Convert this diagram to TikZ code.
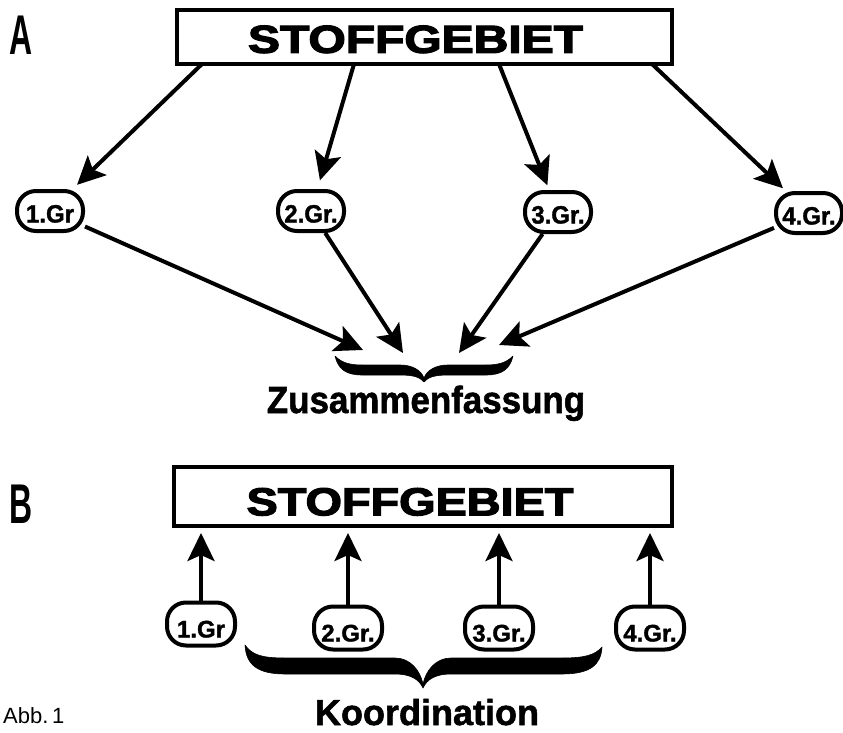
\documentclass[tikz,border=0pt]{standalone}
\usepackage{fontspec}
\setmainfont{Liberation Sans}
\newfontfamily\blackfont{Liberation Sans Bold}[FakeBold=3]
\newfontfamily\semiblack{Liberation Sans Bold}[FakeBold=1.5]
\usetikzlibrary{arrows.meta}
\begin{document}
\begin{tikzpicture}[x=1pt,y=-1pt,
  stoffbox/.style={draw, line width=4pt, inner sep=0pt, minimum height=54pt,
    font=\blackfont\fontsize{39}{39}\selectfont},
  grp/.style={draw, line width=4pt, rounded corners=19pt, minimum width=66pt,
    minimum height=40pt, inner sep=0pt, text height=23pt, text depth=0pt,
    font=\semiblack\fontsize{25}{25}\selectfont},
  grpB/.style={grp, minimum width=68pt, minimum height=43pt, text height=27pt,
    font=\semiblack\fontsize{24}{24}\selectfont},
  arr/.style={line width=4pt, -{Stealth[length=28pt,width=27pt,inset=6pt]}},
  bigletter/.style={inner sep=0pt, font=\bfseries\fontsize{56}{56}\selectfont},
  caption/.style={inner sep=0pt, font=\semiblack\fontsize{36}{36}\selectfont},
  bracefill/.style={fill=black, draw=black, line width=0.6pt, line join=round}
]
\useasboundingbox (0,0) rectangle (843,733);

% ---------------- Part A ----------------
\node[bigletter] (lA) at (21.5,35) {\scalebox{0.57}[1]{A}};
\node[stoffbox, minimum width=495pt, text height=32pt] (boxA) at (424.5,37)
  {\scalebox{1.23}[1]{STOFFGEBIET}\hspace*{18pt}};

\node[grp] (g1) at (50,211) {\scalebox{0.96}[1]{1.Gr}};
\node[grp] (g2) at (311,211) {\scalebox{0.96}[1]{2.Gr.}};
\node[grp] (g3) at (558,212) {\scalebox{0.96}[1]{3.Gr.}};
\node[grp] (g4) at (809,213) {\scalebox{0.96}[1]{4.Gr.}};

\coordinate (a1) at (202,64);
\coordinate (a2) at (354,64);
\coordinate (a3) at (499,64);
\coordinate (a4) at (652,64);
\draw[arr, shorten >=6pt] (a1) -- (g1);
\draw[arr, shorten >=9pt] (a2) -- (g2);
\draw[arr, shorten >=5pt] (a3) -- (g3);
\draw[arr, shorten >=4pt] (a4) -- (g4);

\coordinate (t1) at (363,350);
\coordinate (t2) at (403,353);
\coordinate (t3) at (459,353);
\coordinate (t4) at (499,345);
\draw[arr] (g1) -- (t1);
\draw[arr] (g2) -- (t2);
\draw[arr] (g3) -- (t3);
\draw[arr] (g4) -- (t4);

% brace A
\path[bracefill] (335,356) .. controls (338,369) and (346,375) .. (362,375)
  -- (400,375) .. controls (413,375) and (420,377) .. (424,382)
  .. controls (428,377) and (435,375) .. (448,375)
  -- (486,375) .. controls (502,375) and (510,369) .. (513,356)
  .. controls (506,363) and (498,365) .. (486,365)
  -- (448,365) .. controls (436,365) and (427,370) .. (424,378)
  .. controls (421,370) and (412,365) .. (400,365)
  -- (362,365) .. controls (350,365) and (342,363) .. (335,356) -- cycle;

\node[caption, anchor=base] (zus) at (426,413) {\scalebox{0.97}[1.05]{Zusammenfassung}};

% ---------------- Part B ----------------
\node[bigletter] (lB) at (21.5,504) {\scalebox{0.57}[1]{B}};
\node[stoffbox, minimum width=498pt, minimum height=59pt, text height=38pt] (boxB) at (423,496.5)
  {\scalebox{1.2}[1]{STOFFGEBIET}\hspace*{26pt}};

\node[grpB] (b1) at (201,624) {1.Gr};
\node[grpB] (b2) at (348,628) {2.Gr.};
\node[grpB] (b3) at (499,628) {3.Gr.};
\node[grpB] (b4) at (650,628) {4.Gr.};

\foreach \n in {b1,b2,b3,b4}
  \draw[arr, shorten >=5pt] (\n.north) -- (\n.north |- boxB.south);

% brace B
\path[bracefill] (245,645) .. controls (246,665) and (258,674) .. (285,674)
  -- (395,674) .. controls (410,674) and (419,679) .. (423,688)
  .. controls (427,679) and (436,674) .. (451,674)
  -- (562,674) .. controls (590,674) and (601,665) .. (602,647)
  .. controls (595,655) and (585,658) .. (562,658)
  -- (451,658) .. controls (436,658) and (426,670) .. (423,684)
  .. controls (420,670) and (410,658) .. (395,658)
  -- (285,658) .. controls (262,658) and (252,655) .. (245,645) -- cycle;

\node[caption, anchor=base] (koord) at (427,725) {Koordination};
\node[inner sep=0pt, anchor=base west, font=\fontsize{22}{22}\selectfont] (abb) at (3,723) {Abb.\,1};
\end{tikzpicture}
\end{document}
